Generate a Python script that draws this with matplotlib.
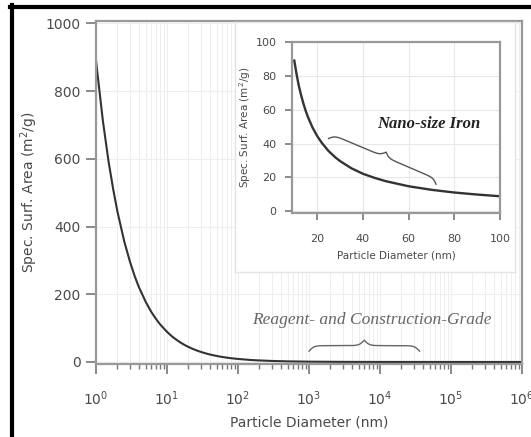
import numpy as np
import matplotlib
matplotlib.use("Agg")
import matplotlib.pyplot as plt
from matplotlib.lines import Line2D
from matplotlib.ticker import LogLocator, NullFormatter

# values (particle diameter in nm, m^2/g)
diameter_nm = [1, 1.25, 1.5, 1.75, 2, 2.5, 3, 3.5, 4, 5, 6, 7, 8, 10, 11, 12,
               13, 14, 15, 16, 18, 20, 22, 25, 28, 30, 35, 40, 45, 50, 60, 70,
               80, 90, 100, 150, 200, 300, 500, 1000, 3000, 1e4, 1e5, 1e6]
ssa = [890, 712, 593, 509, 445, 356, 297, 254, 222, 178, 148, 127, 111, 89,
       81, 74, 68.5, 63.6, 59.3, 55.6, 49.4, 44.5, 40.5, 35.6, 31.8, 29.7,
       25.4, 22.2, 19.8, 17.8, 14.8, 12.7, 11.1, 9.9, 8.9, 5.9, 4.5, 3.0,
       1.8, 0.9, 0.3, 0.09, 0.009, 0.001]

main_yticks = [0, 200, 400, 600, 800, 1000]
inset_xticks = [20, 40, 60, 80, 100]
inset_yticks = [0, 20, 40, 60, 80, 100]

label_y = "Spec. Surf. Area (m$^2$/g)"
label_x = "Particle Diameter (nm)"
text_bulk = "Reagent- and Construction-Grade"
text_nano = "Nano-size Iron"

spine_col = "#999999"
text_col = "#4a4a4a"
curve_col = "#333333"
grid_col = "#eeeeee"

W, H = 531, 437
fig = plt.figure(figsize=(W / 100, H / 100), dpi=100)


def px_box(left, top, right, bottom):
    return [left / W, 1 - bottom / H, (right - left) / W, (bottom - top) / H]


def style(ax, fs, maj, mnr):
    for s in ax.spines.values():
        s.set_color(spine_col)
        s.set_linewidth(1.6)
    ax.tick_params(which="major", length=maj, width=1.2, color="#777777",
                   labelcolor=text_col, labelsize=fs)
    ax.tick_params(which="minor", length=mnr, width=1.0, color="#777777")


def brace(ax, p0, p1, h, beta=0.4, **kw):
    # curly brace drawn in display pixels between two data points
    a = ax.transData.transform(p0)
    b = ax.transData.transform(p1)
    L = np.hypot(*(b - a))
    u = (b - a) / L
    n = np.array([-u[1], u[0]])
    t = np.linspace(0, L / 2, 101)
    half = 1 / (1 + np.exp(-beta * (t - t[0]))) + 1 / (1 + np.exp(-beta * (t - t[-1])))
    yy = np.concatenate((half, half[-2::-1]))
    yy = (yy - yy.min()) / (yy.max() - yy.min()) * h
    tt = np.concatenate((t, L - t[-2::-1]))
    pts = a + np.outer(tt, u) + np.outer(yy, n)
    fig.add_artist(Line2D(pts[:, 0], pts[:, 1], transform=None, **kw))


# main axes
ax = fig.add_axes(px_box(96, 21, 522, 364))
ax.plot(diameter_nm, ssa, color=curve_col, lw=1.5)
ax.set_xscale("log")
ax.set_xlim(1, 1e6)
ax.set_ylim(-6, 1007)
ax.set_yticks(main_yticks)
ax.xaxis.set_major_locator(LogLocator(base=10, numticks=10))
ax.xaxis.set_minor_locator(LogLocator(base=10, subs=np.arange(2, 10), numticks=20))
ax.xaxis.set_minor_formatter(NullFormatter())
ax.grid(True, which="both", axis="x", color=grid_col, lw=0.8)
ax.grid(True, which="major", axis="y", color=grid_col, lw=0.8)
ax.set_axisbelow(True)
style(ax, 10, 7, 3.5)
ax.tick_params(axis="x", which="major", pad=11)
ax.tick_params(axis="y", pad=4)
ax.set_xlabel(label_x, fontsize=10, color=text_col, labelpad=6)
ax.set_ylabel(label_y, fontsize=10, color=text_col, labelpad=4)

ax.text(7.6e3, 125, text_bulk, ha="center", va="center", fontsize=12.5,
        family="Liberation Serif", style="italic", color="#666666")

# white box behind the inset
bg = fig.add_axes(px_box(235, 22, 515, 272))
bg.set_xticks([])
bg.set_yticks([])
for s in bg.spines.values():
    s.set_color("#e4e4e4")
    s.set_linewidth(1.0)

# inset: same curve, nano range only
d_in = [d for d in diameter_nm if 10 <= d <= 100]
s_in = [s for d, s in zip(diameter_nm, ssa) if 10 <= d <= 100]
ins = fig.add_axes(px_box(292, 42, 500, 213))
ins.plot(d_in, s_in, color=curve_col, lw=1.7)
ins.set_xlim(9, 100)
ins.set_ylim(-1, 100)
ins.set_xticks(inset_xticks)
ins.set_yticks(inset_yticks)
ins.grid(True, color="#e8e8e8", lw=0.8)
ins.set_axisbelow(True)
style(ins, 8, 5, 2)
ins.tick_params(axis="x", pad=10)
ins.tick_params(axis="y", pad=6)
ins.set_xlabel(label_x, fontsize=7.5, color=text_col, labelpad=5)
ins.set_ylabel(label_y, fontsize=7.5, color=text_col, labelpad=2)
ins.text(68.9, 51.5, text_nano, ha="center", va="center", fontsize=12,
         family="Liberation Serif", style="italic", weight="bold", color="#222222")

brace(ax, (1e3, 32), (3.6e4, 32), 11, color="#666666", lw=1.0)
brace(ins, (25, 43), (72, 16), 10, color="#555555", lw=1.0)

# black frame lines on top and left edge
fig.add_artist(Line2D([10 / W, 1], [1 - 6.5 / H, 1 - 6.5 / H],
                      transform=fig.transFigure, color="black", lw=3))
fig.add_artist(Line2D([11.5 / W, 11.5 / W], [0, 1 - 5 / H],
                      transform=fig.transFigure, color="black", lw=3))

fig.savefig("out.png", dpi=100)
